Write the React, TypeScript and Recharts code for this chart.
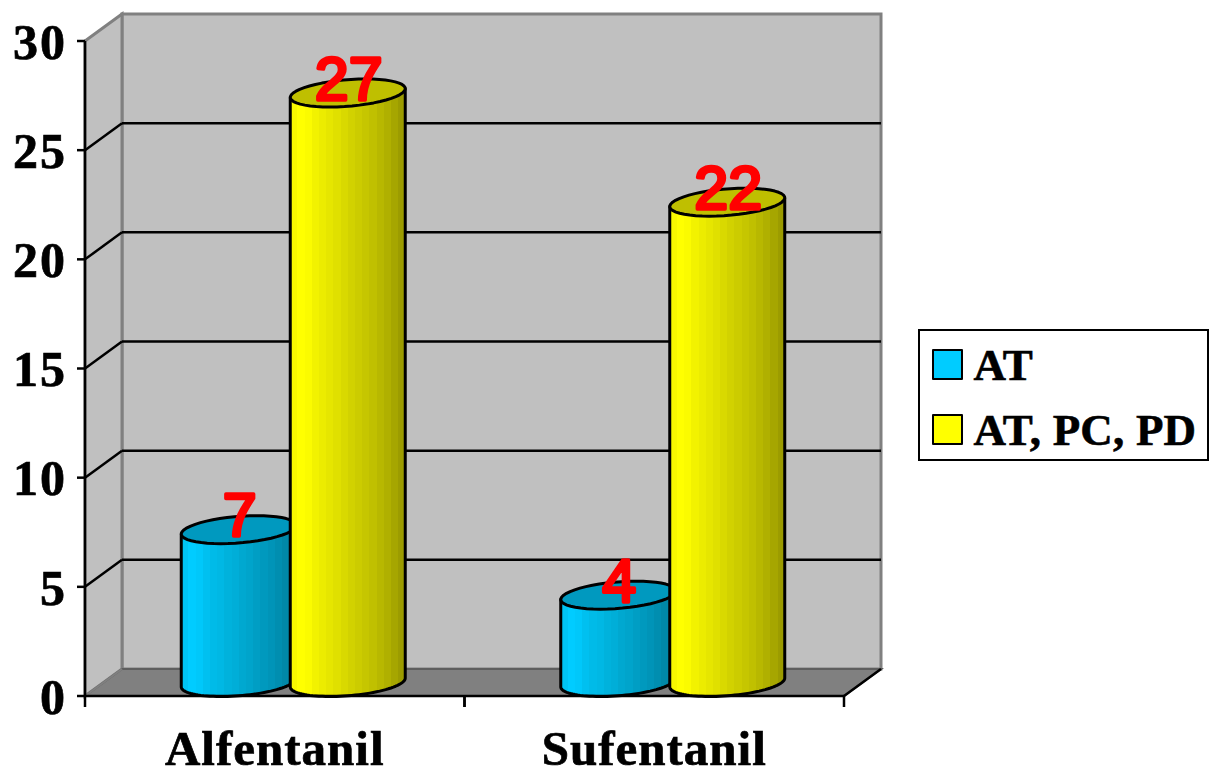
import React from "react";
import { BarChart, Bar, XAxis, YAxis, Legend, LabelList, usePlotArea } from "recharts";

// Values plotted per drug
const drugs = ["Alfentanil", "Sufentanil"];
const atValues = [7, 4];
const atPcPdValues = [27, 22];
const yTicks = [0, 5, 10, 15, 20, 25, 30];
const yMax = 30;
const seriesNames = ["AT", "AT, PC, PD"];

const rows = drugs.map((drug, i) => ({ drug, at: atValues[i], full: atPcPdValues[i] }));

const SERIF = '"Liberation Serif", serif';
const LINE = 2.5;
const BAR_LINE = 3;

// Oblique projection of the chart box: how far the back wall sits from the front plane
const WALL_DX = 37;
const WALL_DY = -27;
// Cylinders stand in the middle of the box depth
const BAR_DX = 18.25;
const BAR_DY = -13.5;
// Shear of the circular cap in projection
const CAP_DX = 18;
const CAP_DY = -14;

// Shading bands across a cylinder, left to right
const blueBands = ["#00c4f4", "#00ccff", "#00c8fa", "#00c0f0", "#00bbe8", "#00b8e4", "#00b2dc", "#00aed8", "#00a8d0", "#00a4cb", "#009ec4", "#0099be", "#0094b8", "#008eb0", "#0088a8", "#00809f"];
const yellowBands = ["#f8f800", "#ffff00", "#fbfb00", "#f2f200", "#ecec00", "#e6e600", "#e0e000", "#d9d900", "#d2d200", "#cccc00", "#c6c600", "#c0c000", "#b8b800", "#b0b000", "#a6a600", "#9c9c00"];

function bandStops(colors: string[]) {
  return colors.flatMap((color, i) => [
    <stop key={`${i}a`} offset={i / colors.length} stopColor={color} />,
    <stop key={`${i}b`} offset={(i + 1) / colors.length} stopColor={color} />,
  ]);
}

function capPoint(cx: number, cy: number, a: number, t: number) {
  const r = Math.sqrt(a * a - CAP_DX * CAP_DX);
  return [cx + r * Math.cos(t) + CAP_DX * Math.sin(t), cy + CAP_DY * Math.sin(t)];
}

function arcPoints(cx: number, cy: number, a: number, from: number, to: number) {
  const pts: string[] = [];
  const steps = 48;
  for (let i = 0; i <= steps; i++) {
    const [x, y] = capPoint(cx, cy, a, from + ((to - from) * i) / steps);
    pts.push(`${x.toFixed(2)} ${y.toFixed(2)}`);
  }
  return pts;
}

function Cylinder(props: any) {
  const { x, y, width, height, bodyFill, capFill } = props;
  const a = width / 2;
  const cx = x + a + BAR_DX;
  const top = y + BAR_DY;
  const base = y + height + BAR_DY;
  const r = Math.sqrt(a * a - CAP_DX * CAP_DX);
  const t0 = Math.atan2(CAP_DX, r);
  const lower = arcPoints(cx, base, a, t0 + Math.PI, t0 + 2 * Math.PI);
  const [rx, ry] = capPoint(cx, top, a, t0);
  const [lx, ly] = capPoint(cx, top, a, t0 + Math.PI);
  const body = `M ${lx} ${ly} L ${lower.join(" L ")} L ${rx} ${ry} Z`;
  const cap = `M ${arcPoints(cx, top, a, 0, 2 * Math.PI).join(" L ")} Z`;
  return (
    <g>
      <path d={body} fill={bodyFill} stroke="#000" strokeWidth={BAR_LINE} strokeLinejoin="round" />
      <path d={cap} fill={capFill} stroke="#000" strokeWidth={BAR_LINE} strokeLinejoin="round" />
    </g>
  );
}

// Grey back wall, side wall and floor of the box, with gridlines folding from side wall to back wall
function Walls() {
  const plot = usePlotArea();
  if (!plot) return null;
  const { x, y, width, height } = plot;
  const b = y + height;
  const r = x + width;
  const P = (a: number, c: number) => `${a},${c}`;
  const inner = yTicks.filter((v) => v > 0 && v < yMax);
  return (
    <g>
      <polygon
        points={[P(x + WALL_DX, y + WALL_DY), P(r + WALL_DX, y + WALL_DY), P(r + WALL_DX, b + WALL_DY), P(x + WALL_DX, b + WALL_DY)].join(" ")}
        fill="#c0c0c0"
        stroke="#808080"
        strokeWidth={3}
      />
      <polygon
        points={[P(x, y), P(x + WALL_DX, y + WALL_DY), P(x + WALL_DX, b + WALL_DY), P(x, b)].join(" ")}
        fill="#c0c0c0"
        stroke="#808080"
        strokeWidth={3}
      />
      <polygon
        points={[P(x, b), P(x + WALL_DX, b + WALL_DY), P(r + WALL_DX, b + WALL_DY), P(r, b)].join(" ")}
        fill="#808080"
        stroke="#5e5e5e"
        strokeWidth={2}
      />
      <line x1={r} y1={b} x2={r + WALL_DX} y2={b + WALL_DY} stroke="#000" strokeWidth={LINE} />
      <line x1={x} y1={b} x2={x + WALL_DX} y2={b + WALL_DY} stroke="#808080" strokeWidth={2} />
      {inner.map((v) => {
        const gy = y + height * (1 - v / yMax);
        return (
          <g key={v}>
            <line x1={x + WALL_DX} y1={gy + WALL_DY} x2={r + WALL_DX} y2={gy + WALL_DY} stroke="#000" strokeWidth={LINE} />
            <line x1={x} y1={gy} x2={x + WALL_DX} y2={gy + WALL_DY} stroke="#000" strokeWidth={LINE} />
          </g>
        );
      })}
    </g>
  );
}

function CategoryTick(props: any) {
  const { x, y, payload } = props;
  const plot = usePlotArea();
  const band = plot ? plot.width / drugs.length : 0;
  const bottom = plot ? plot.y + plot.height : y;
  return (
    <g>
      <line x1={x - band / 2} y1={bottom} x2={x - band / 2} y2={bottom + 11} stroke="#000" strokeWidth={LINE} />
      <line x1={x + band / 2} y1={bottom} x2={x + band / 2} y2={bottom + 11} stroke="#000" strokeWidth={LINE} />
      <text x={x} y={bottom + 69} textAnchor="middle" fontFamily={SERIF} fontWeight={700} fontSize={49} letterSpacing={1} fill="#000" stroke="#000" strokeWidth={0.7}>
        {payload.value}
      </text>
    </g>
  );
}

function ValueLabel(props: any) {
  const { x, y, width, value } = props;
  return (
    <text
      x={x + width / 2 + BAR_DX + 1}
      y={y - 7}
      textAnchor="middle"
      fontFamily='"Liberation Sans", sans-serif'
      fontWeight={400}
      fontSize={61}
      fill="#ff0000"
      stroke="#ff0000"
      strokeWidth={3.5}
      strokeLinejoin="round"
      strokeLinecap="round"
    >
      {value}
    </text>
  );
}

function KeyBox() {
  const swatches = ["#00ccff", "#ffff00"];
  return (
    <div
      style={{
        boxSizing: "border-box",
        width: 291,
        height: 132,
        border: "2.5px solid #000",
        background: "#fff",
        fontFamily: SERIF,
        fontWeight: 700,
        fontSize: 45,
        letterSpacing: 0.2,
        WebkitTextStroke: "0.6px #000",
        color: "#000",
        position: "relative",
      }}
    >
      {seriesNames.map((name, i) => (
        <div key={name} style={{ position: "absolute", left: 11.5, top: 17.5 + i * 65, display: "flex", alignItems: "center", height: 32, whiteSpace: "nowrap" }}>
          <span style={{ boxSizing: "border-box", width: 31, height: 31, background: swatches[i], border: "2.5px solid #000", borderRadius: 1, marginRight: 11 }} />
          <span>{name}</span>
        </div>
      ))}
    </div>
  );
}

const tickFont = { fontFamily: SERIF, fontWeight: 700, fontSize: 50, fill: "#000", stroke: "#000", strokeWidth: 0.7, letterSpacing: 2 };

export default function App() {
  return (
    <div style={{ position: "absolute", left: 0, top: 0, width: 1209, height: 767, background: "#fff" }}>
      <BarChart
        width={1209}
        height={767}
        data={rows}
        margin={{ top: 41, right: 74, bottom: 0, left: 0 }}
        barSize={115}
        barGap={-6}
      >
        <defs>
          <linearGradient id="bodyBlue" x1="0" y1="0" x2="1" y2="0">
            {bandStops(blueBands)}
          </linearGradient>
          <linearGradient id="bodyYellow" x1="0" y1="0" x2="1" y2="0">
            {bandStops(yellowBands)}
          </linearGradient>
        </defs>
        <Walls />
        <XAxis
          dataKey="drug"
          height={71}
          tickLine={false}
          axisLine={{ stroke: "#000", strokeWidth: LINE }}
          tick={<CategoryTick />}
          interval={0}
        />
        <YAxis
          width={85}
          domain={[0, yMax]}
          ticks={yTicks}
          interval={0}
          tickSize={8}
          tickMargin={10}
          axisLine={{ stroke: "#000", strokeWidth: LINE }}
          tickLine={{ stroke: "#000", strokeWidth: LINE }}
          tick={tickFont}
        />
        <Legend
          layout="vertical"
          align="right"
          verticalAlign="middle"
          content={() => <KeyBox />}
          wrapperStyle={{ position: "absolute", left: 918, top: 329, width: 291 }}
        />
        <Bar
          dataKey="at"
          name={seriesNames[0]}
          fill="#00ccff"
          isAnimationActive={false}
          shape={(p: any) => <Cylinder {...p} bodyFill="url(#bodyBlue)" capFill="#0099bf" />}
        >
          <LabelList dataKey="at" content={(p: any) => <ValueLabel {...p} />} />
        </Bar>
        <Bar
          dataKey="full"
          name={seriesNames[1]}
          fill="#ffff00"
          isAnimationActive={false}
          shape={(p: any) => <Cylinder {...p} bodyFill="url(#bodyYellow)" capFill="#bfbf00" />}
        >
          <LabelList dataKey="full" content={(p: any) => <ValueLabel {...p} />} />
        </Bar>
      </BarChart>
    </div>
  );
}
